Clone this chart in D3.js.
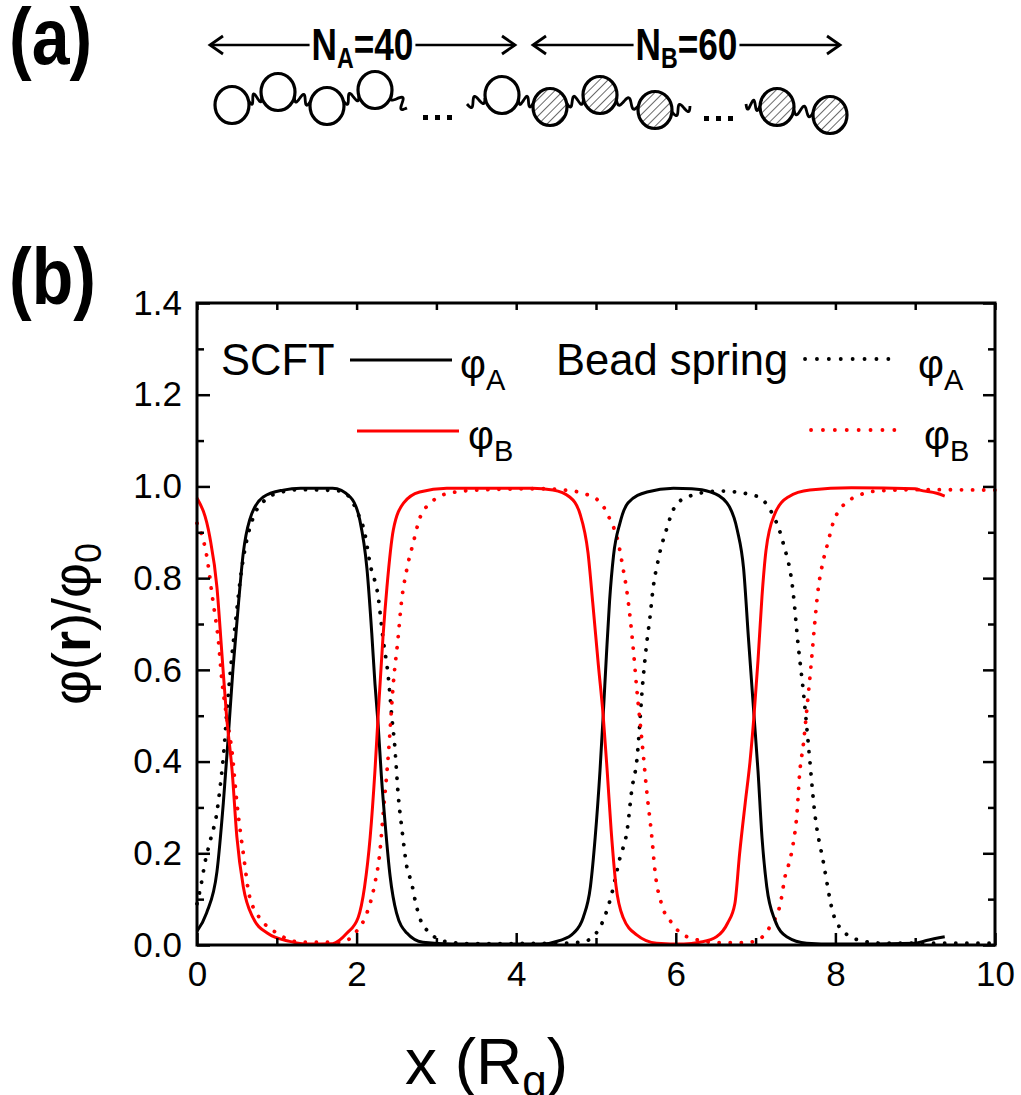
<!DOCTYPE html>
<html>
<head>
<meta charset="utf-8">
<script src="https://cdn.jsdelivr.net/npm/d3@7"></script>
<style>
  body { margin: 0; background: #fff; }
  svg text { font-family: "Liberation Sans", Arial, sans-serif; }
</style>
</head>
<body>
<svg id="chart" width="1021" height="1095"></svg>
<script>
// SCFT profiles (solid)
var scftAx = [0,0.12,0.25,0.33,0.39,0.45,0.52,0.58,0.66,0.83,1.08,1.3,1.7,1.92,2.04,2.13,2.19,2.23,2.27,2.31,2.36,2.42,2.5,2.63,2.83,3.2,4.3,4.55,4.72,4.84,4.93,4.99,5.05,5.09,5.13,5.17,5.22,5.3,5.4,5.64,5.97,6.2,6.43,6.64,6.77,6.85,6.91,6.98,7.03,7.08,7.14,7.24,7.39,7.64,8.0,9.0,9.14,9.37];
var scftA  = [0.03,0.07,0.16,0.31,0.45,0.6,0.745,0.855,0.927,0.977,0.992,0.996,0.996,0.977,0.927,0.82,0.68,0.57,0.48,0.37,0.26,0.15,0.07,0.026,0.006,0.002,0.002,0.01,0.026,0.06,0.127,0.235,0.38,0.5,0.63,0.75,0.85,0.92,0.964,0.988,0.996,0.995,0.988,0.964,0.905,0.82,0.67,0.5,0.38,0.235,0.127,0.055,0.018,0.004,0.002,0.004,0.01,0.018];
var scftBx = [0,0.16,0.25,0.31,0.37,0.44,0.5,0.58,0.7,0.88,1.16,1.4,1.7,1.88,2.02,2.1,2.17,2.23,2.27,2.33,2.38,2.46,2.59,2.79,3.13,4.2,4.46,4.67,4.8,4.9,4.96,5.03,5.09,5.14,5.19,5.25,5.34,5.51,5.76,6.1,6.3,6.51,6.65,6.74,6.8,6.87,6.93,6.98,7.03,7.08,7.13,7.24,7.41,7.68,8.2,9.0,9.06,9.27,9.37];
var scftB  = [0.975,0.89,0.78,0.64,0.5,0.38,0.235,0.127,0.06,0.026,0.008,0.002,0.003,0.026,0.06,0.127,0.235,0.38,0.5,0.67,0.78,0.905,0.964,0.988,0.996,0.996,0.992,0.977,0.94,0.855,0.745,0.61,0.5,0.38,0.25,0.13,0.06,0.022,0.004,0.002,0.006,0.018,0.048,0.09,0.2,0.31,0.4,0.5,0.62,0.76,0.86,0.94,0.977,0.992,0.997,0.995,0.992,0.985,0.979];

// Bead spring profiles (dotted)
var beadAx = [0,0.05,0.1,0.17,0.25,0.29,0.34,0.37,0.42,0.48,0.56,0.62,0.7,0.85,1.0,1.3,1.8,2.02,2.1,2.17,2.27,2.33,2.4,2.44,2.48,2.52,2.57,2.63,2.69,2.73,2.79,2.92,3.13,3.4,4.6,4.84,5.02,5.18,5.3,5.39,5.45,5.51,5.59,5.63,5.68,5.71,5.78,5.89,5.97,6.14,6.55,6.99,7.18,7.34,7.47,7.53,7.6,7.66,7.74,7.85,7.97,8.1,8.31,8.6,10];
var beadA  = [0.09,0.13,0.18,0.23,0.29,0.345,0.43,0.5,0.6,0.7,0.82,0.88,0.93,0.97,0.985,0.993,0.99,0.94,0.9,0.83,0.76,0.67,0.58,0.5,0.43,0.33,0.25,0.17,0.135,0.1,0.06,0.026,0.007,0.003,0.004,0.007,0.03,0.1,0.19,0.25,0.34,0.4,0.58,0.65,0.72,0.77,0.84,0.91,0.95,0.977,0.99,0.98,0.95,0.88,0.77,0.66,0.55,0.44,0.29,0.18,0.07,0.03,0.01,0.004,0.004];
var beadBx = [0,0.12,0.2,0.27,0.31,0.37,0.44,0.5,0.58,0.66,0.83,1.0,1.3,1.8,2.0,2.13,2.23,2.29,2.33,2.4,2.46,2.52,2.56,2.63,2.71,2.79,2.94,3.15,3.5,4.3,4.61,4.84,5.05,5.17,5.28,5.34,5.38,5.43,5.47,5.51,5.55,5.59,5.63,5.7,5.74,5.82,5.95,6.14,6.55,6.86,7.02,7.18,7.31,7.37,7.43,7.47,7.52,7.55,7.6,7.64,7.7,7.74,7.78,7.85,7.91,7.97,8.08,8.29,8.52,9.1,10];
var beadB  = [0.92,0.85,0.75,0.66,0.58,0.5,0.42,0.31,0.2,0.105,0.05,0.026,0.006,0.006,0.03,0.07,0.135,0.2,0.28,0.42,0.57,0.67,0.745,0.82,0.877,0.93,0.966,0.985,0.992,0.995,0.992,0.985,0.966,0.93,0.877,0.82,0.78,0.71,0.64,0.56,0.49,0.42,0.345,0.235,0.16,0.09,0.048,0.018,0.005,0.005,0.01,0.04,0.09,0.15,0.185,0.22,0.29,0.37,0.44,0.51,0.62,0.7,0.77,0.84,0.88,0.92,0.955,0.98,0.99,0.993,0.992];

var xMajor = [0,2,4,6,8,10];
var xMinor = [1,3,5,7,9];
var yMajor = [0,0.2,0.4,0.6,0.8,1.0,1.2,1.4];
var yMinor = [0.1,0.3,0.5,0.7,0.9,1.1,1.3];

// schematic of the chain in panel (a)
var beadsA = [[232,105],[278,92],[327,106],[375,90],[502,95]];
var beadsB = [[550,107],[600,95],[655,110],[777,107],[830,115]];

var svg = d3.select("#chart");
var margin = {left: 197, right: 26, top: 303, bottom: 150};
var W = 1021, H = 1095;

var x = d3.scaleLinear().domain([0, 10]).range([margin.left, W - margin.right]);
var y = d3.scaleLinear().domain([0, 1.4]).range([H - margin.bottom, margin.top]);

// hatch pattern for B beads
var defs = svg.append("defs");
var pat = defs.append("pattern")
  .attr("id", "hatch").attr("patternUnits", "userSpaceOnUse")
  .attr("width", 6).attr("height", 6)
  .attr("patternTransform", "rotate(45)");
pat.append("rect").attr("width", 6).attr("height", 6).attr("fill", "#fff");
pat.append("line").attr("x1", 0).attr("y1", 0).attr("x2", 0).attr("y2", 6)
  .attr("stroke", "#444").attr("stroke-width", 1.6);

// ---- panel labels (condensed bold, squeezed horizontally)
[["(a)", 64], ["(b)", 304]].forEach(function(p) {
  svg.append("text").attr("transform", "translate(9," + p[1] + ") scale(0.85,1)")
    .text(p[0]).style("font-size", "80px").style("font-weight", "bold");
});

// ---- chain schematic
var sch = svg.append("g");

function arrow(x0, x1, yy, label, sub, num) {
  var cx = (x0 + x1) / 2;
  var t = sch.append("text")
    .attr("transform", "translate(" + cx + "," + (yy + 15) + ") scale(0.8,1)")
    .attr("text-anchor", "middle")
    .style("font-size", "44px").style("font-weight", "bold");
  t.append("tspan").text(label);
  t.append("tspan").attr("dy", 8).style("font-size", "29px").text(sub);
  t.append("tspan").attr("dy", -8).text("=" + num);
  var half = t.node().getBBox().width * 0.8 / 2 + 2;
  sch.append("line").attr("x1", x0).attr("x2", cx - half).attr("y1", yy).attr("y2", yy)
    .attr("stroke", "#000").attr("stroke-width", 2.5);
  sch.append("line").attr("x1", cx + half).attr("x2", x1).attr("y1", yy).attr("y2", yy)
    .attr("stroke", "#000").attr("stroke-width", 2.5);
  sch.append("path").attr("d", "M" + (x0 + 13) + "," + (yy - 9) + "L" + x0 + "," + yy + "L" + (x0 + 13) + "," + (yy + 9))
    .attr("fill", "none").attr("stroke", "#000").attr("stroke-width", 2.8);
  sch.append("path").attr("d", "M" + (x1 - 13) + "," + (yy - 9) + "L" + x1 + "," + yy + "L" + (x1 - 13) + "," + (yy + 9))
    .attr("fill", "none").attr("stroke", "#000").attr("stroke-width", 2.8);
}
arrow(210, 515, 45, "N", "A", "40");
arrow(533, 840, 45, "N", "B", "60");

function squiggle(x0, y0, x1, y1) {
  var n = 24, pts = [];
  var dx = x1 - x0, dy = y1 - y0, len = Math.sqrt(dx * dx + dy * dy);
  var nx = -dy / len, ny = dx / len;
  for (var i = 0; i <= n; i++) {
    var t = i / n, a = 5 * Math.sin(t * Math.PI * 3);
    pts.push([x0 + dx * t + nx * a, y0 + dy * t + ny * a]);
  }
  sch.append("path").attr("d", d3.line().curve(d3.curveBasis)(pts))
    .attr("fill", "none").attr("stroke", "#000").attr("stroke-width", 2.8);
}
function edge(a, b, r) {
  var dx = b[0] - a[0], dy = b[1] - a[1], l = Math.sqrt(dx * dx + dy * dy);
  return [a[0] + dx / l * r, a[1] + dy / l * r];
}
function chainLinks(list) {
  for (var i = 0; i < list.length - 1; i++) {
    var p = edge(list[i], list[i + 1], 17), q = edge(list[i + 1], list[i], 17);
    squiggle(p[0], p[1], q[0], q[1]);
  }
}
chainLinks(beadsA.slice(0, 4));
chainLinks([beadsA[4]].concat(beadsB.slice(0, 3)));
chainLinks(beadsB.slice(3));
squiggle(392, 94, 407, 108);
squiggle(467, 104, 485, 98);
squiggle(672, 112, 690, 106);
squiggle(746, 104, 760, 106);

sch.selectAll(".dotA").data([425, 437, 449, 706, 718, 730]).enter().append("rect")
  .attr("x", function(d) { return d - 2; })
  .attr("y", function(d) { return d < 600 ? 115 : 116; })
  .attr("width", 5).attr("height", 5).attr("fill", "#000");

sch.selectAll(".beadA").data(beadsA).enter().append("ellipse")
  .attr("cx", function(d) { return d[0]; }).attr("cy", function(d) { return d[1]; })
  .attr("rx", 17).attr("ry", 18.5)
  .attr("fill", "#fff").attr("stroke", "#000").attr("stroke-width", 3.2);
sch.selectAll(".beadB").data(beadsB).enter().append("ellipse")
  .attr("cx", function(d) { return d[0]; }).attr("cy", function(d) { return d[1]; })
  .attr("rx", 17).attr("ry", 18.5)
  .attr("fill", "url(#hatch)").attr("stroke", "#000").attr("stroke-width", 3.2);

// ---- plot (b)
var g = svg.append("g");

function zip(xs, ys) { return xs.map(function(v, i) { return [v, ys[i]]; }); }
var line = d3.line()
  .x(function(d) { return x(d[0]); })
  .y(function(d) { return y(d[1]); })
  .curve(d3.curveMonotoneX);

var series = [
  {pts: zip(beadAx, beadA), color: "#000", dotted: true},
  {pts: zip(beadBx, beadB), color: "#ff0000", dotted: true},
  {pts: zip(scftAx, scftA), color: "#000", dotted: false},
  {pts: zip(scftBx, scftB), color: "#ff0000", dotted: false}
];

g.selectAll(".curve").data(series).enter().append("path")
  .attr("d", function(d) { return line(d.pts); })
  .attr("fill", "none")
  .attr("stroke", function(d) { return d.color; })
  .attr("stroke-width", function(d) { return d.dotted ? 3.8 : 3; })
  .attr("stroke-linecap", function(d) { return d.dotted ? "round" : "butt"; })
  .attr("stroke-dasharray", function(d) { return d.dotted ? "0.1,11" : null; });

// axes
var fmt = d3.format(".1f");
function styleAxis(sel) {
  sel.select(".domain").remove();
  sel.selectAll("line").attr("stroke", "#000").attr("stroke-width", 2.5);
  sel.selectAll("text").style("font-size", "35px").attr("fill", "#000")
    .style("font-family", "'Liberation Sans', Arial, sans-serif");
}
var H0 = H - margin.bottom;
g.append("g").attr("transform", "translate(0," + H0 + ")")
  .call(d3.axisBottom(x).tickValues(xMajor).tickSize(-12).tickPadding(16).tickFormat(d3.format("d")))
  .call(styleAxis);
g.append("g").attr("transform", "translate(0," + H0 + ")")
  .call(d3.axisBottom(x).tickValues(xMinor).tickSize(-7).tickFormat(""))
  .call(styleAxis);
g.append("g").attr("transform", "translate(0," + margin.top + ")")
  .call(d3.axisTop(x).tickValues(xMajor.concat(xMinor)).tickSize(-7).tickFormat(""))
  .call(styleAxis);
g.append("g").attr("transform", "translate(" + margin.left + ",0)")
  .call(d3.axisLeft(y).tickValues(yMajor).tickSize(-13).tickPadding(15).tickFormat(fmt))
  .call(styleAxis);
g.append("g").attr("transform", "translate(" + margin.left + ",0)")
  .call(d3.axisLeft(y).tickValues(yMinor).tickSize(-7).tickFormat(""))
  .call(styleAxis);
g.append("g").attr("transform", "translate(" + (W - margin.right) + ",0)")
  .call(d3.axisRight(y).tickValues(yMajor).tickSize(-12).tickFormat(""))
  .call(styleAxis);
g.append("g").attr("transform", "translate(" + (W - margin.right) + ",0)")
  .call(d3.axisRight(y).tickValues(yMinor).tickSize(-7).tickFormat(""))
  .call(styleAxis);

// frame
g.append("rect").attr("x", x(0)).attr("y", y(1.4))
  .attr("width", x(10) - x(0)).attr("height", y(0) - y(1.4))
  .attr("fill", "none").attr("stroke", "#000").attr("stroke-width", 3);

// axis titles
var xt = svg.append("text").attr("x", 405).attr("y", 1084)
  .attr("text-anchor", "start").style("font-size", "64px");
xt.append("tspan").text("x (R");
xt.append("tspan").attr("dy", 12).style("font-size", "44px").text("g");
xt.append("tspan").attr("dy", -12).text(")");

var yt = svg.append("text")
  .attr("transform", "translate(90," + ((y(0) + y(1.4)) / 2) + ") rotate(-90)")
  .attr("text-anchor", "middle").style("font-size", "54px");
yt.append("tspan").text("\u03C6(");
yt.append("tspan").style("font-weight", "bold").text("r");
yt.append("tspan").text(")/\u03C6");
yt.append("tspan").attr("dy", 11).style("font-size", "36px").text("0");

// legend
var leg = svg.append("g");
var legItems = [
  {x0: 350, x1: 452, yy: 360, color: "#000", dotted: false, tx: 460, ty: 378, sub: "A"},
  {x0: 357, x1: 459, yy: 431, color: "#ff0000", dotted: false, tx: 468, ty: 449, sub: "B"},
  {x0: 805, x1: 895, yy: 359, color: "#000", dotted: true, tx: 918, ty: 378, sub: "A"},
  {x0: 811, x1: 900, yy: 430, color: "#ff0000", dotted: true, tx: 924, ty: 449, sub: "B"}
];
leg.append("text").attr("x", 221).attr("y", 375).text("SCFT").style("font-size", "43.5px");
leg.append("text").attr("x", 556).attr("y", 375).text("Bead spring").style("font-size", "43.5px");
legItems.forEach(function(d) {
  leg.append("line").attr("x1", d.x0).attr("x2", d.x1).attr("y1", d.yy).attr("y2", d.yy)
    .attr("stroke", d.color)
    .attr("stroke-width", d.dotted ? 3.8 : 3)
    .attr("stroke-linecap", d.dotted ? "round" : "butt")
    .attr("stroke-dasharray", d.dotted ? "0.1,11.8" : null);
  var t = leg.append("text").attr("x", d.tx).attr("y", d.ty).style("font-size", "40px");
  t.append("tspan").text("\u03C6");
  t.append("tspan").attr("dy", 12).style("font-size", "29px").text(d.sub);
});
</script>
</body>
</html>
